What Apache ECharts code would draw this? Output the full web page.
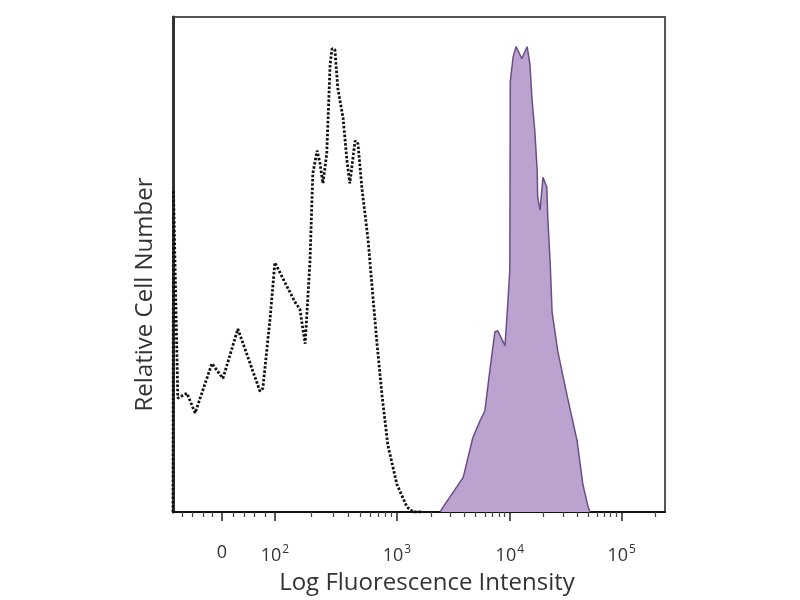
<!DOCTYPE html>
<html>
<head>
<meta charset="utf-8">
<script src="https://cdn.jsdelivr.net/npm/echarts@6/dist/echarts.min.js"></script>
<style>html,body{margin:0;padding:0;background:#fff}#c{width:800px;height:600px}</style>
</head>
<body>
<div id="c"></div>
<script>
// x values are display channels (0-1024) of the biexponential fluorescence axis
const controlSeries = [
  [0,0],[1,65],[10,23],[29,24],[46,20],[81,30],[104,27],[135,37],[181,24.4],[187,25],
  [202,39],[212,50.4],[237,45.6],[254,42.4],[264,41],[275,34],[285,50.4],[291,68.4],
  [300,73],[306,70.4],[312,66.4],[320,72.4],[327,90.4],[331,93.6],[337,93.4],[343,85.6],
  [354,79.6],[362,71],[368,66.4],[379,75],[385,74.4],[393,65.6],[406,55],[416,43.6],
  [425,33.6],[435,23.6],[447,13.6],[466,5.6],[487,1],[500,0],[520,0]
];
const stainedSeries = [
  [556,0],[562,1],[604,7],[624,15],[639,18.4],[649,20.4],[660,29],[670,36.4],[676,36.6],
  [691,33.6],[697,42.4],[701,49],[702,87],[708,92],[714,94],[726,91.6],[737,94],[743,90.4],
  [747,83.6],[753,77],[758,69],[759,63.6],[764,61],[770,67.6],[778,65.6],[780,59.6],
  [785,50.4],[789,40.4],[801,32.4],[820,23.6],[841,14.4],[853,5.6],[864,1],[868,0]
];
const tickLabels = ['0', '10^2', '10^3', '10^4', '10^5'];
const tickChannels = [102, 212, 466, 701, 934];
const linearMinorTicks = [20, 41, 62, 82, 125, 148, 170, 191];
const axisMin = 0, axisMax = 1024;

// log minor ticks (2..9 x 10^n) placed inside each decade between major tick channels
const minorTicks = linearMinorTicks.slice();
for (let i = 1; i < tickChannels.length; i++) {
  const a = tickChannels[i], b = (i + 1 < tickChannels.length) ? tickChannels[i + 1] : tickChannels[i] + (tickChannels[i] - tickChannels[i - 1]);
  for (let m = 2; m <= 9; m++) {
    const p = a + Math.log10(m) * (b - a);
    if (p < axisMax) minorTicks.push(Math.round(p));
  }
}

function fmt(v) {
  const i = tickChannels.indexOf(v);
  if (i < 0) return '';
  const t = tickLabels[i];
  if (t.indexOf('^') < 0) return '{a|' + t + '}';
  const p = t.split('^');
  return '{a|' + p[0] + '}{b|' + p[1] + '}';
}

const chart = echarts.init(document.getElementById('c'));
const font = 'Open Sans';
chart.setOption({
  animation: false,
  backgroundColor: '#fff',
  grid: { left: 173, right: 135, top: 17, bottom: 85, show: true, borderColor: '#555', borderWidth: 2 },
  xAxis: [{
    type: 'value', min: axisMin, max: axisMax,
    name: 'Log Fluorescence Intensity', nameLocation: 'middle', nameGap: 59,
    nameTextStyle: { fontFamily: font, fontSize: 24, color: '#333', padding: [0, 0, 0, 16] },
    axisLine: { show: true, lineStyle: { color: '#111', width: 2 } },
    axisTick: { show: true, customValues: tickChannels, length: 9, lineStyle: { color: '#222', width: 1.5 } },
    axisLabel: {
      customValues: tickChannels, margin: 32, formatter: fmt,
      rich: {
        a: { fontFamily: font, fontSize: 18, color: '#333' },
        b: { fontFamily: font, fontSize: 12, color: '#333', padding: [0, 0, 12, 1] }
      }
    },
    splitLine: { show: false }
  }, {
    type: 'value', min: axisMin, max: axisMax, position: 'bottom',
    axisLine: { show: false },
    axisTick: { show: true, customValues: minorTicks, length: 5, lineStyle: { color: '#444', width: 1.2 } },
    axisLabel: { show: false },
    splitLine: { show: false }
  }],
  yAxis: {
    type: 'value', min: 0, max: 100,
    name: 'Relative Cell Number', nameLocation: 'middle', nameGap: 16,
    nameTextStyle: { fontFamily: font, fontSize: 24, color: '#333', padding: [0, 60, 0, 0] },
    axisLine: { show: true, lineStyle: { color: '#333', width: 3 } },
    axisTick: { show: false }, axisLabel: { show: false }, splitLine: { show: false }
  },
  series: [{
    type: 'line', data: stainedSeries, xAxisIndex: 0, symbol: 'none',
    lineStyle: { color: '#6a4f86', width: 1.5 },
    areaStyle: { color: '#bba3d0', opacity: 1 }, z: 3
  }, {
    type: 'line', data: controlSeries, xAxisIndex: 0, symbol: 'none',
    lineStyle: { color: '#111', width: 2.8, type: [2.5, 1.8] }, z: 4
  }]
});
</script>
</body>
</html>
